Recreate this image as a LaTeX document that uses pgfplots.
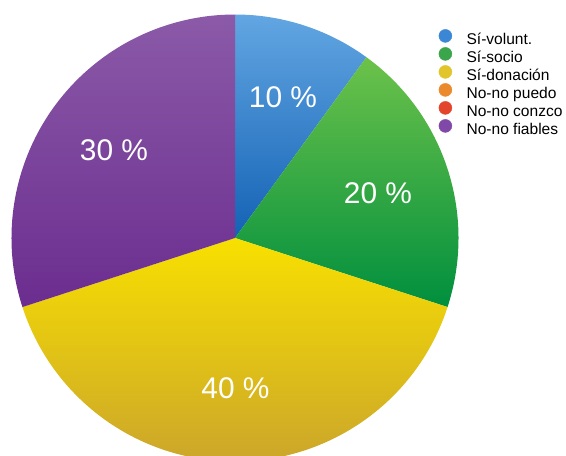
\documentclass[border=0pt]{standalone}
\usepackage{fontspec}
\setmainfont{Liberation Sans}
\usepackage{pgfplots}
\pgfplotsset{compat=1.18}

% slice shading (top / bottom)
\definecolor{blueT}{HTML}{62A6E2}
\definecolor{blueB}{HTML}{1462B5}
\definecolor{greenT}{HTML}{6CC24A}
\definecolor{greenB}{HTML}{008F3E}
\definecolor{yellowT}{HTML}{F8E000}
\definecolor{yellowB}{HTML}{C69F30}
\definecolor{purpleT}{HTML}{8B5AA8}
\definecolor{purpleB}{HTML}{6B2D8F}
% legend dots
\definecolor{lblue}{HTML}{3B87D6}
\definecolor{lgreen}{HTML}{3AA54A}
\definecolor{lyellow}{HTML}{E2C52B}
\definecolor{lorange}{HTML}{EA8A2C}
\definecolor{lred}{HTML}{E2452B}
\definecolor{lpurple}{HTML}{8049A8}

\newcommand{\pielabel}[2]{%
  \node[font=\fontsize{30}{30}\selectfont, white] at (#1) {#2};}

\begin{document}
\begin{tikzpicture}
\useasboundingbox (0,0) rectangle (566bp,456bp);
\clip (0,0) rectangle (566bp,456bp);
\begin{axis}[
    x=1bp, y=1bp,
    xmin=0, xmax=566, ymin=0, ymax=456,
    at={(0,0)}, anchor=origin,
    hide axis, clip=false,
    legend image code/.code={\fill[#1] (0bp,5bp) circle (6.5bp);},
    legend cell align=left,
    legend style={
        at={(axis cs:438.5,427)}, anchor=north west,
        draw=none, fill=none, inner sep=0pt,
        font=\fontsize{15.6}{17}\selectfont,
        nodes={inner sep=0pt, text height=11bp, text depth=3bp},
        row sep=-0.7bp,
        /tikz/every odd column/.append style={column sep=14.5bp},
    },
]
\addlegendimage{lblue}   \addlegendentry{Sí-volunt.}
\addlegendimage{lgreen}  \addlegendentry{Sí-socio}
\addlegendimage{lyellow} \addlegendentry{Sí-donación}
\addlegendimage{lorange} \addlegendentry{No-no puedo}
\addlegendimage{lred}    \addlegendentry{No-no conzco}
\addlegendimage{lpurple} \addlegendentry{No-no fiables}

% shares: 10, 20, 40, 0, 0, 30 (clockwise from the top)
\shade[top color=blueT, bottom color=blueB]
  (axis cs:235,218) -- ++(90:223.5bp) arc[start angle=90, delta angle={-3.6*10}, radius=223.5bp] -- cycle;
\shade[top color=greenT, bottom color=greenB]
  (axis cs:235,218) -- ++(54:223.5bp) arc[start angle=54, delta angle={-3.6*20}, radius=223.5bp] -- cycle;
\shade[top color=yellowT, bottom color=yellowB]
  (axis cs:235,218) -- ++(-18:223.5bp) arc[start angle=-18, delta angle={-3.6*40}, radius=223.5bp] -- cycle;
\shade[top color=purpleT, bottom color=purpleB]
  (axis cs:235,218) -- ++(-162:223.5bp) arc[start angle=-162, delta angle={-3.6*30}, radius=223.5bp] -- cycle;

\pielabel{axis cs:283,359}{10 \%}
\pielabel{axis cs:378,263}{20 \%}
\pielabel{axis cs:235.5,68}{40 \%}
\pielabel{axis cs:114,306}{30 \%}
\end{axis}
\end{tikzpicture}
\end{document}
